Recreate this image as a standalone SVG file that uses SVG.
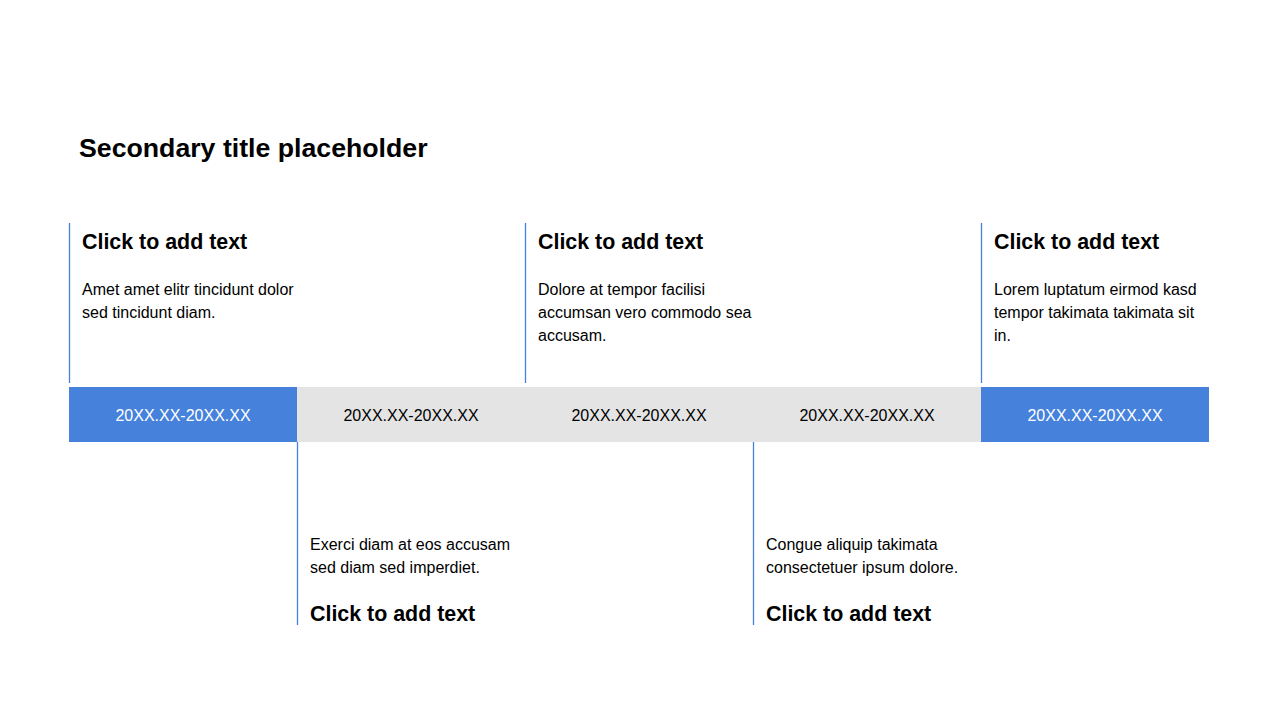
<svg xmlns="http://www.w3.org/2000/svg" width="1280" height="720" viewBox="0 0 1280 720">
<style>
.title{font-family:"Liberation Sans",Arial,sans-serif;font-weight:bold;font-size:26.7px;fill:#000}
.head{font-family:"Liberation Sans",Arial,sans-serif;font-weight:bold;font-size:21.4px;fill:#000}
.body{font-family:"Liberation Sans",Arial,sans-serif;font-size:16px;fill:#000}
.date{font-family:"Liberation Sans",Arial,sans-serif;font-size:16px;text-anchor:middle}
.blue{fill:#4682DC}
.gray{fill:#E4E4E4}
.vline{stroke:#4682DC;stroke-width:1.3}
</style>
<rect width="1280" height="720" fill="#fff"/>
<text class="title" x="79" y="157">Secondary title placeholder</text>
<g id="connectors">
<line class="vline" x1="69.5" y1="223" x2="69.5" y2="383"/>
<line class="vline" x1="525.5" y1="223" x2="525.5" y2="383"/>
<line class="vline" x1="981.5" y1="223" x2="981.5" y2="383"/>
<line class="vline" x1="297.5" y1="442" x2="297.5" y2="625"/>
<line class="vline" x1="753.5" y1="442" x2="753.5" y2="625"/>
</g>
<g id="seg1"><rect class="blue" x="69" y="387" width="228" height="55"/><text class="date" x="183" y="421" fill="#fff">20XX.XX-20XX.XX</text></g>
<g id="seg2"><rect class="gray" x="297" y="387" width="228" height="55"/><text class="date" x="411" y="421" fill="#000">20XX.XX-20XX.XX</text></g>
<g id="seg3"><rect class="gray" x="525" y="387" width="228" height="55"/><text class="date" x="639" y="421" fill="#000">20XX.XX-20XX.XX</text></g>
<g id="seg4"><rect class="gray" x="753" y="387" width="228" height="55"/><text class="date" x="867" y="421" fill="#000">20XX.XX-20XX.XX</text></g>
<g id="seg5"><rect class="blue" x="981" y="387" width="228" height="55"/><text class="date" x="1095" y="421" fill="#fff">20XX.XX-20XX.XX</text></g>
<g id="note1"><text class="head" x="82" y="249">Click to add text</text><text class="body" x="82" y="295">Amet amet elitr tincidunt dolor</text><text class="body" x="82" y="318">sed tincidunt diam.</text></g>
<g id="note3"><text class="head" x="538" y="249">Click to add text</text><text class="body" x="538" y="295">Dolore at tempor facilisi</text><text class="body" x="538" y="318">accumsan vero commodo sea</text><text class="body" x="538" y="341">accusam.</text></g>
<g id="note5"><text class="head" x="994" y="249">Click to add text</text><text class="body" x="994" y="295">Lorem luptatum eirmod kasd</text><text class="body" x="994" y="318">tempor takimata takimata sit</text><text class="body" x="994" y="341">in.</text></g>
<g id="note2"><text class="body" x="310" y="550">Exerci diam at eos accusam</text><text class="body" x="310" y="573">sed diam sed imperdiet.</text><text class="head" x="310" y="621">Click to add text</text></g>
<g id="note4"><text class="body" x="766" y="550">Congue aliquip takimata</text><text class="body" x="766" y="573">consectetuer ipsum dolore.</text><text class="head" x="766" y="621">Click to add text</text></g>
</svg>
